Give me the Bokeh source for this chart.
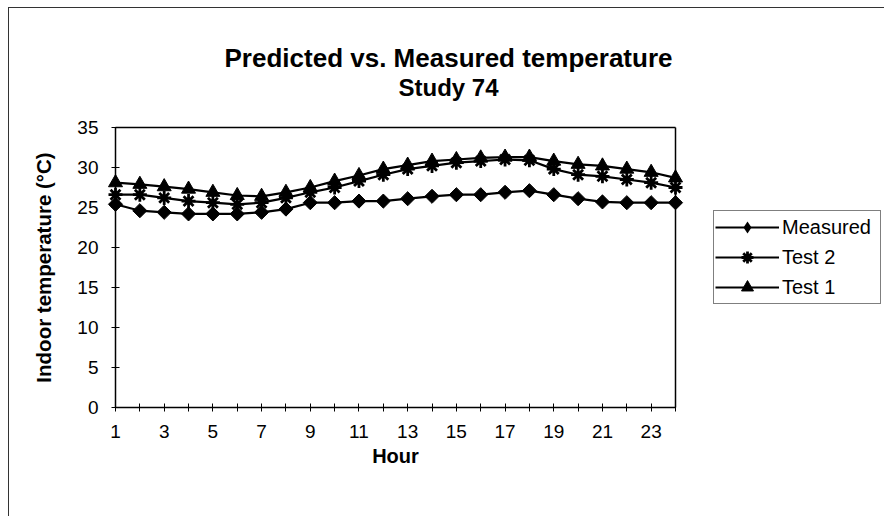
import numpy as np
from bokeh.plotting import figure
from bokeh.models import Range1d, FixedTicker, Legend, LegendItem, Label
from bokeh.embed import file_html
from bokeh.resources import INLINE

# ---------------- data ----------------
hours = list(range(1, 25))
measured = [25.4, 24.6, 24.4, 24.2, 24.2, 24.2, 24.4, 24.8, 25.6, 25.6, 25.8, 25.8,
            26.1, 26.4, 26.6, 26.6, 26.9, 27.1, 26.6, 26.1, 25.7, 25.6, 25.6, 25.6]
test2 = [26.6, 26.6, 26.2, 25.8, 25.6, 25.4, 25.6, 26.2, 26.9, 27.5, 28.3, 29.1,
         29.8, 30.2, 30.6, 30.8, 31.0, 30.9, 29.8, 29.1, 28.9, 28.5, 28.1, 27.5]
test1 = [28.1, 27.9, 27.6, 27.3, 26.9, 26.5, 26.4, 26.9, 27.5, 28.3, 29.0, 29.8,
         30.3, 30.8, 31.0, 31.2, 31.3, 31.3, 30.8, 30.4, 30.2, 29.8, 29.4, 28.7]
series_names = ["Measured", "Test 2", "Test 1"]
x_tick_labels = {h: (str(h) if h % 2 == 1 else "") for h in hours}
y_ticks = [0, 5, 10, 15, 20, 25, 30, 35]
title_text = "Predicted vs. Measured temperature"
subtitle_text = "Study 74"
x_label = "Hour"
y_label = "Indoor temperature (°C)"

# ---------------- layout (page pixels) ----------------
FONT = "Liberation Sans"
OX, OY = 9, 8                 # top-left of the figure on the page
W, H = 876, 509
PA_L, PA_R, PA_T, PA_B = 115, 675, 127, 407   # plot area box on the page

x_per_px = (hours[-1] - hours[0]) / (PA_R - PA_L)
y_per_px = (y_ticks[-1] - y_ticks[0]) / (PA_B - PA_T)


def px2x(px):
    return hours[0] + (px - PA_L) * x_per_px


def py2y(py):
    return y_ticks[0] + (PA_B - py) * y_per_px


X0, X1 = px2x(OX), px2x(OX + W)
Y0, Y1 = py2y(OY + H), py2y(OY)

p = figure(width=W, height=H, x_range=Range1d(X0, X1), y_range=Range1d(Y0, Y1),
           output_backend="svg", toolbar_location=None, min_border=0)
p.title.visible = False
p.xgrid.visible = False
p.ygrid.visible = False
p.outline_line_color = None
p.background_fill_color = "white"
p.border_fill_color = "white"
p.styles = {"margin-left": "8px", "margin-top": "7px",
            "border-left": "1px solid #333", "border-top": "1px solid #333"}

# plot-area top and right border
p.segment(x0=[hours[0], hours[-1]], y0=[y_ticks[-1], y_ticks[0]],
          x1=[hours[-1], hours[-1]], y1=[y_ticks[-1], y_ticks[-1]],
          line_color="black", line_width=1.5)

# series
lm = p.line(hours, measured, line_color="black", line_width=2.2)
sm = p.scatter(hours, measured, marker="square", angle=np.pi / 4, size=10,
               fill_color="black", line_color="black")
sm_leg = p.scatter(hours, measured, marker="diamond", size=0,
                   fill_color="black", line_color="black", line_alpha=0)
l2 = p.line(hours, test2, line_color="black", line_width=2.2)
s2 = p.scatter(hours, test2, marker="asterisk", size=14, line_color="black", line_width=2.8)
l1 = p.line(hours, test1, line_color="black", line_width=2.2)
s1 = p.scatter(hours, test1, marker="triangle", size=14, fill_color="black", line_color="black")

# axes (both fixed at the plot-area edges)
xa = p.xaxis[0]
xa.ticker = FixedTicker(ticks=hours)
xa.major_label_overrides = x_tick_labels
xa.bounds = (hours[0], hours[-1])
xa.fixed_location = y_ticks[0]
ya = p.yaxis[0]
ya.ticker = FixedTicker(ticks=y_ticks)
ya.fixed_location = hours[0]
ya.bounds = (y_ticks[0], y_ticks[-1])
for ax in (xa, ya):
    ax.axis_line_color = "black"
    ax.axis_line_width = 1.5
    ax.major_tick_line_color = "black"
    ax.major_tick_line_width = 1
    ax.major_tick_in = 4
    ax.major_tick_out = 4
    ax.minor_tick_line_color = None
    ax.major_label_text_font = FONT
    ax.major_label_text_font_size = "19px"
    ax.major_label_text_color = "black"
    ax.major_label_standoff = 13
    ax.axis_label_text_font = FONT
    ax.axis_label_text_font_style = "bold"
    ax.axis_label_text_color = "black"
xa.axis_label = x_label
xa.axis_label_text_font_size = "20px"
xa.axis_label_standoff = 4
ya.axis_label = y_label
ya.axis_label_text_font_size = "20.5px"
ya.axis_label_standoff = 19

# titles
p.add_layout(Label(x=px2x(448), y=py2y(57), text=title_text, text_align="center",
                   text_baseline="alphabetic", text_font=FONT, text_font_size="26px",
                   text_font_style="bold", text_color="black"))
p.add_layout(Label(x=px2x(448), y=py2y(87), text=subtitle_text, text_align="center",
                   text_baseline="alphabetic", text_font=FONT, text_font_size="24px",
                   text_font_style="bold", text_color="black"))

# legend
legend = Legend(items=[LegendItem(label=series_names[0], renderers=[lm, sm_leg]),
                       LegendItem(label=series_names[1], renderers=[l2, s2]),
                       LegendItem(label=series_names[2], renderers=[l1, s1])],
                location=(713 - OX, OY + H - 304))
legend.label_text_font = FONT
legend.label_text_font_size = "20px"
legend.label_text_color = "black"
legend.glyph_width = 64
legend.glyph_height = 30
legend.label_height = 20
legend.label_width = 97
legend.label_standoff = 3
legend.spacing = 0
legend.padding = 1
legend.margin = 0
legend.border_line_color = "black"
legend.border_line_width = 1
legend.background_fill_color = "white"
legend.background_fill_alpha = 1
p.add_layout(legend)

open("out.html", "w").write(file_html(p, INLINE))
